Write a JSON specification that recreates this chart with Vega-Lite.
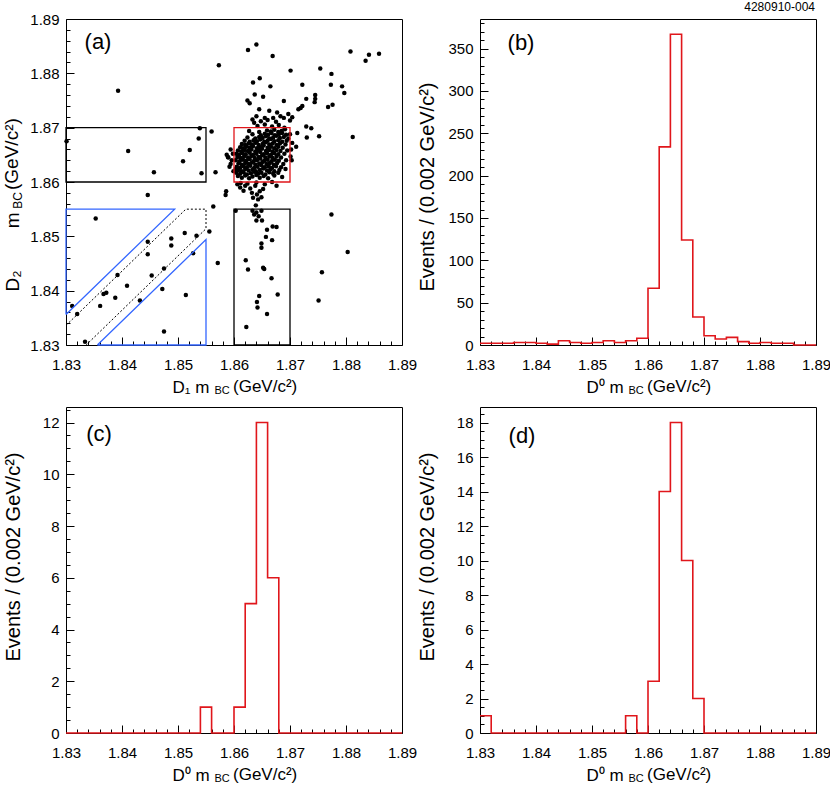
{
"$schema": "https://vega.github.io/schema/vega-lite/v6.json",
"background": "white",
"padding": {"left": 2, "top": 0, "right": 0, "bottom": 2},
"columns": 2,
"spacing": {"row": 62, "column": 78},
"bounds": "flush",
"config": {
  "view": {"stroke": "black", "strokeWidth": 1},
  "axis": {"domain": false, "grid": false, "tickColor": "black", "tickWidth": 1, "labelFont": "Liberation Sans", "labelFontSize": 15, "labelColor": "black", "titleFont": "Liberation Sans", "titleFontWeight": "normal", "titleColor": "black", "labelOverlap": false, "labelFlush": false, "labelBound": false},
  "text": {"font": "Liberation Sans", "color": "black"}
},
"datasets": {
  "scatter": [
{"x":1.8625,"y":1.8843},{"x":1.8640,"y":1.8853},{"x":1.8669,"y":1.8832},{"x":1.8573,"y":1.8815},{"x":1.8393,"y":1.8768},{"x":1.8701,"y":1.8805},{"x":1.8808,"y":1.8840},{"x":1.8835,"y":1.8823},{"x":1.8841,"y":1.8834},{"x":1.8859,"y":1.8836},
{"x":1.8754,"y":1.8809},{"x":1.8774,"y":1.8799},{"x":1.8634,"y":1.8783},{"x":1.8646,"y":1.8791},{"x":1.8665,"y":1.8776},{"x":1.8722,"y":1.8779},{"x":1.8773,"y":1.8779},{"x":1.8793,"y":1.8776},{"x":1.8797,"y":1.8764},{"x":1.8637,"y":1.8761},
{"x":1.8652,"y":1.8757},{"x":1.8624,"y":1.8750},{"x":1.8628,"y":1.8745},{"x":1.8729,"y":1.8753},{"x":1.8745,"y":1.8760},{"x":1.8745,"y":1.8753},{"x":1.8744,"y":1.8747},{"x":1.8689,"y":1.8749},{"x":1.8719,"y":1.8736},{"x":1.8715,"y":1.8734},
{"x":1.8722,"y":1.8740},{"x":1.8768,"y":1.8738},{"x":1.8776,"y":1.8742},{"x":1.8645,"y":1.8734},{"x":1.8663,"y":1.8731},{"x":1.8677,"y":1.8728},{"x":1.8697,"y":1.8725},{"x":1.8704,"y":1.8719},{"x":1.8700,"y":1.8713},{"x":1.8689,"y":1.8718},
{"x":1.8670,"y":1.8718},{"x":1.8655,"y":1.8718},{"x":1.8633,"y":1.8715},{"x":1.8648,"y":1.8712},{"x":1.8729,"y":1.8702},{"x":1.8738,"y":1.8699},{"x":1.8730,"y":1.8682},{"x":1.8752,"y":1.8684},{"x":1.8812,"y":1.8683},{"x":1.8713,"y":1.8690},
{"x":1.8711,"y":1.8665},{"x":1.8701,"y":1.8647},{"x":1.8560,"y":1.8693},{"x":1.8567,"y":1.8618},{"x":1.8587,"y":1.8650},{"x":1.8589,"y":1.8646},{"x":1.8594,"y":1.8633},{"x":1.8603,"y":1.8624},{"x":1.8585,"y":1.8576},{"x":1.8586,"y":1.8583},
{"x":1.8563,"y":1.8555},{"x":1.8446,"y":1.8576},{"x":1.8539,"y":1.8699},{"x":1.8537,"y":1.8680},{"x":1.8521,"y":1.8659},{"x":1.8509,"y":1.8638},{"x":1.8542,"y":1.8616},{"x":1.8411,"y":1.8657},{"x":1.8457,"y":1.8618},{"x":1.8301,"y":1.8675},
{"x":1.8620,"y":1.8593},{"x":1.8629,"y":1.8588},{"x":1.8638,"y":1.8593},{"x":1.8646,"y":1.8583},{"x":1.8641,"y":1.8577},{"x":1.8632,"y":1.8580},{"x":1.8652,"y":1.8587},{"x":1.8634,"y":1.8571},{"x":1.8643,"y":1.8568},{"x":1.8649,"y":1.8572},
{"x":1.8639,"y":1.8557},{"x":1.8676,"y":1.8593},{"x":1.8617,"y":1.8584},{"x":1.8611,"y":1.8590},
{"x":1.8603,"y":1.8547},{"x":1.8633,"y":1.8547},{"x":1.8640,"y":1.8544},{"x":1.8649,"y":1.8547},{"x":1.8644,"y":1.8537},{"x":1.8636,"y":1.8540},{"x":1.8650,"y":1.8529},{"x":1.8640,"y":1.8529},{"x":1.8659,"y":1.8512},{"x":1.8669,"y":1.8518},
{"x":1.8676,"y":1.8517},{"x":1.8657,"y":1.8499},{"x":1.8668,"y":1.8493},{"x":1.8649,"y":1.8487},{"x":1.8649,"y":1.8479},{"x":1.8621,"y":1.8456},{"x":1.8625,"y":1.8439},{"x":1.8652,"y":1.8442},{"x":1.8654,"y":1.8440},{"x":1.8667,"y":1.8423},
{"x":1.8645,"y":1.8390},{"x":1.8678,"y":1.8393},{"x":1.8641,"y":1.8379},{"x":1.8642,"y":1.8369},{"x":1.8659,"y":1.8357},{"x":1.8622,"y":1.8333},{"x":1.8571,"y":1.8451},{"x":1.8556,"y":1.8509},{"x":1.8774,"y":1.8540},{"x":1.8803,"y":1.8471},
{"x":1.8757,"y":1.8434},{"x":1.8751,"y":1.8382},
{"x":1.8353,"y":1.8533},{"x":1.8446,"y":1.8490},{"x":1.8446,"y":1.8467},{"x":1.8488,"y":1.8496},{"x":1.8488,"y":1.8483},{"x":1.8512,"y":1.8506},{"x":1.8533,"y":1.8501},{"x":1.8527,"y":1.8469},{"x":1.8475,"y":1.8441},{"x":1.8453,"y":1.8428},
{"x":1.8472,"y":1.8403},{"x":1.8432,"y":1.8382},{"x":1.8392,"y":1.8429},{"x":1.8409,"y":1.8409},{"x":1.8388,"y":1.8387},{"x":1.8367,"y":1.8394},{"x":1.8372,"y":1.8396},{"x":1.8361,"y":1.8372},{"x":1.8320,"y":1.8357},{"x":1.8311,"y":1.8372},
{"x":1.8475,"y":1.8325},{"x":1.8514,"y":1.8392},{"x":1.8334,"y":1.8306},
{"x":1.8607,"y":1.8611},{"x":1.8614,"y":1.8608},{"x":1.8620,"y":1.8612},{"x":1.8627,"y":1.8607},{"x":1.8633,"y":1.8610},{"x":1.8640,"y":1.8613},{"x":1.8646,"y":1.8608},{"x":1.8653,"y":1.8611},{"x":1.8661,"y":1.8607},{"x":1.8672,"y":1.8612},{"x":1.8686,"y":1.8609},
{"x":1.8604,"y":1.8617},{"x":1.8611,"y":1.8615},{"x":1.8617,"y":1.8618},{"x":1.8623,"y":1.8614},{"x":1.8630,"y":1.8616},{"x":1.8636,"y":1.8619},{"x":1.8643,"y":1.8615},{"x":1.8649,"y":1.8617},{"x":1.8656,"y":1.8614},{"x":1.8663,"y":1.8618},{"x":1.8670,"y":1.8615},{"x":1.8679,"y":1.8617},
{"x":1.8608,"y":1.8622},{"x":1.8614,"y":1.8620},{"x":1.8620,"y":1.8624},{"x":1.8626,"y":1.8621},{"x":1.8633,"y":1.8623},{"x":1.8639,"y":1.8620},{"x":1.8646,"y":1.8622},{"x":1.8652,"y":1.8625},{"x":1.8659,"y":1.8621},{"x":1.8665,"y":1.8623},{"x":1.8672,"y":1.8620},{"x":1.8681,"y":1.8622},{"x":1.8692,"y":1.8624},
{"x":1.8605,"y":1.8628},{"x":1.8611,"y":1.8626},{"x":1.8617,"y":1.8629},{"x":1.8623,"y":1.8627},{"x":1.8629,"y":1.8630},{"x":1.8636,"y":1.8626},{"x":1.8642,"y":1.8628},{"x":1.8649,"y":1.8631},{"x":1.8655,"y":1.8627},{"x":1.8662,"y":1.8629},{"x":1.8668,"y":1.8626},{"x":1.8675,"y":1.8629},{"x":1.8684,"y":1.8627},
{"x":1.8608,"y":1.8634},{"x":1.8614,"y":1.8632},{"x":1.8620,"y":1.8635},{"x":1.8626,"y":1.8633},{"x":1.8632,"y":1.8636},{"x":1.8638,"y":1.8632},{"x":1.8645,"y":1.8634},{"x":1.8651,"y":1.8637},{"x":1.8658,"y":1.8633},{"x":1.8664,"y":1.8635},{"x":1.8671,"y":1.8632},{"x":1.8677,"y":1.8635},{"x":1.8688,"y":1.8633},
{"x":1.8603,"y":1.8640},{"x":1.8610,"y":1.8638},{"x":1.8616,"y":1.8641},{"x":1.8622,"y":1.8639},{"x":1.8628,"y":1.8642},{"x":1.8635,"y":1.8638},{"x":1.8641,"y":1.8640},{"x":1.8647,"y":1.8643},{"x":1.8654,"y":1.8639},{"x":1.8660,"y":1.8641},{"x":1.8667,"y":1.8638},{"x":1.8673,"y":1.8641},{"x":1.8680,"y":1.8639},{"x":1.8693,"y":1.8640},
{"x":1.8606,"y":1.8646},{"x":1.8612,"y":1.8644},{"x":1.8618,"y":1.8647},{"x":1.8625,"y":1.8645},{"x":1.8631,"y":1.8648},{"x":1.8637,"y":1.8644},{"x":1.8644,"y":1.8646},{"x":1.8650,"y":1.8649},{"x":1.8656,"y":1.8645},{"x":1.8663,"y":1.8647},{"x":1.8669,"y":1.8644},{"x":1.8676,"y":1.8647},{"x":1.8684,"y":1.8645},
{"x":1.8604,"y":1.8652},{"x":1.8609,"y":1.8650},{"x":1.8615,"y":1.8653},{"x":1.8621,"y":1.8651},{"x":1.8628,"y":1.8654},{"x":1.8634,"y":1.8650},{"x":1.8640,"y":1.8652},{"x":1.8647,"y":1.8655},{"x":1.8653,"y":1.8651},{"x":1.8659,"y":1.8653},{"x":1.8666,"y":1.8650},{"x":1.8672,"y":1.8653},{"x":1.8679,"y":1.8651},{"x":1.8690,"y":1.8652},
{"x":1.8607,"y":1.8658},{"x":1.8613,"y":1.8656},{"x":1.8619,"y":1.8659},{"x":1.8625,"y":1.8657},{"x":1.8631,"y":1.8660},{"x":1.8638,"y":1.8656},{"x":1.8644,"y":1.8658},{"x":1.8650,"y":1.8661},{"x":1.8657,"y":1.8657},{"x":1.8663,"y":1.8659},{"x":1.8669,"y":1.8656},{"x":1.8676,"y":1.8659},{"x":1.8683,"y":1.8657},{"x":1.8695,"y":1.8658},
{"x":1.8611,"y":1.8664},{"x":1.8616,"y":1.8662},{"x":1.8622,"y":1.8665},{"x":1.8628,"y":1.8663},{"x":1.8634,"y":1.8666},{"x":1.8641,"y":1.8662},{"x":1.8647,"y":1.8664},{"x":1.8653,"y":1.8667},{"x":1.8660,"y":1.8663},{"x":1.8666,"y":1.8665},{"x":1.8672,"y":1.8662},{"x":1.8679,"y":1.8665},{"x":1.8687,"y":1.8663},
{"x":1.8614,"y":1.8670},{"x":1.8620,"y":1.8668},{"x":1.8626,"y":1.8671},{"x":1.8632,"y":1.8669},{"x":1.8638,"y":1.8672},{"x":1.8644,"y":1.8668},{"x":1.8651,"y":1.8670},{"x":1.8657,"y":1.8673},{"x":1.8663,"y":1.8669},{"x":1.8669,"y":1.8671},{"x":1.8676,"y":1.8668},{"x":1.8682,"y":1.8671},{"x":1.8692,"y":1.8669},
{"x":1.8619,"y":1.8676},{"x":1.8628,"y":1.8674},{"x":1.8635,"y":1.8677},{"x":1.8641,"y":1.8675},{"x":1.8647,"y":1.8678},{"x":1.8654,"y":1.8674},{"x":1.8660,"y":1.8676},{"x":1.8666,"y":1.8679},{"x":1.8672,"y":1.8675},{"x":1.8679,"y":1.8677},{"x":1.8686,"y":1.8674},{"x":1.8694,"y":1.8676},
{"x":1.8624,"y":1.8682},{"x":1.8638,"y":1.8680},{"x":1.8645,"y":1.8683},{"x":1.8651,"y":1.8681},{"x":1.8657,"y":1.8684},{"x":1.8663,"y":1.8680},{"x":1.8670,"y":1.8682},{"x":1.8676,"y":1.8685},{"x":1.8682,"y":1.8681},{"x":1.8689,"y":1.8683},{"x":1.8697,"y":1.8680},
{"x":1.8633,"y":1.8688},{"x":1.8648,"y":1.8686},{"x":1.8655,"y":1.8689},{"x":1.8661,"y":1.8687},{"x":1.8667,"y":1.8690},{"x":1.8673,"y":1.8686},{"x":1.8680,"y":1.8688},{"x":1.8686,"y":1.8690},{"x":1.8693,"y":1.8687},
{"x":1.8627,"y":1.8694},{"x":1.8645,"y":1.8692},{"x":1.8659,"y":1.8695},{"x":1.8666,"y":1.8693},{"x":1.8672,"y":1.8696},{"x":1.8679,"y":1.8692},{"x":1.8685,"y":1.8694},{"x":1.8691,"y":1.8697},
{"x":1.8642,"y":1.8703},{"x":1.8655,"y":1.8706},{"x":1.8668,"y":1.8702},{"x":1.8680,"y":1.8705},{"x":1.8690,"y":1.8700},{"x":1.8636,"y":1.8709},{"x":1.8675,"y":1.8711},{"x":1.8660,"y":1.8714},{"x":1.8596,"y":1.8640},{"x":1.8592,"y":1.8628},
{"x":1.8598,"y":1.8652},{"x":1.8594,"y":1.8660},{"x":1.8599,"y":1.8620},{"x":1.8590,"y":1.8645},{"x":1.8702,"y":1.8660},{"x":1.8704,"y":1.8672},{"x":1.8700,"y":1.8688},{"x":1.8703,"y":1.8640},{"x":1.8612,"y":1.8598},{"x":1.8624,"y":1.8597},
{"x":1.8640,"y":1.8599},{"x":1.8655,"y":1.8596},{"x":1.8668,"y":1.8600},{"x":1.8606,"y":1.8596},{"x":1.8640,"y":1.8721},{"x":1.8683,"y":1.8721}
  ],
  "boxes": [
    {"x":1.860,"x2":1.870,"y":1.860,"y2":1.870,"c":"r"},
    {"x":1.830,"x2":1.855,"y":1.860,"y2":1.870,"c":"k"},
    {"x":1.860,"x2":1.870,"y":1.830,"y2":1.855,"c":"k"}
  ],
  "blue": [
    {"id":"u","o":0,"x":1.830,"y":1.8356},{"id":"u","o":1,"x":1.8494,"y":1.855},{"id":"u","o":2,"x":1.830,"y":1.855},{"id":"u","o":3,"x":1.830,"y":1.8356},
    {"id":"l","o":0,"x":1.8356,"y":1.830},{"id":"l","o":1,"x":1.855,"y":1.8494},{"id":"l","o":2,"x":1.855,"y":1.830},{"id":"l","o":3,"x":1.8356,"y":1.830}
  ],
  "dotted": [
    {"o":0,"x":1.830,"y":1.8336},{"o":1,"x":1.8514,"y":1.855},{"o":2,"x":1.855,"y":1.855},{"o":3,"x":1.855,"y":1.8514},{"o":4,"x":1.8336,"y":1.830}
  ],
  "hb": [
    {"x":1.830,"y":2},{"x":1.832,"y":2},{"x":1.834,"y":2},{"x":1.836,"y":3},{"x":1.838,"y":3},{"x":1.840,"y":2},{"x":1.842,"y":1},{"x":1.844,"y":5},{"x":1.846,"y":3},{"x":1.848,"y":2},
    {"x":1.850,"y":3},{"x":1.852,"y":5},{"x":1.854,"y":3},{"x":1.856,"y":5},{"x":1.858,"y":8},{"x":1.860,"y":67},{"x":1.862,"y":234},{"x":1.864,"y":367},{"x":1.866,"y":124},{"x":1.868,"y":33},
    {"x":1.870,"y":11},{"x":1.872,"y":7},{"x":1.874,"y":9},{"x":1.876,"y":4},{"x":1.878,"y":2},{"x":1.880,"y":3},{"x":1.882,"y":2},{"x":1.884,"y":2},{"x":1.886,"y":0},{"x":1.888,"y":0},{"x":1.890,"y":0}
  ],
  "hc": [
    {"x":1.830,"y":0},{"x":1.832,"y":0},{"x":1.834,"y":0},{"x":1.836,"y":0},{"x":1.838,"y":0},{"x":1.840,"y":0},{"x":1.842,"y":0},{"x":1.844,"y":0},{"x":1.846,"y":0},{"x":1.848,"y":0},
    {"x":1.850,"y":0},{"x":1.852,"y":0},{"x":1.854,"y":1},{"x":1.856,"y":0},{"x":1.858,"y":0},{"x":1.860,"y":1},{"x":1.862,"y":5},{"x":1.864,"y":12},{"x":1.866,"y":6},{"x":1.868,"y":0},
    {"x":1.870,"y":0},{"x":1.872,"y":0},{"x":1.874,"y":0},{"x":1.876,"y":0},{"x":1.878,"y":0},{"x":1.880,"y":0},{"x":1.882,"y":0},{"x":1.884,"y":0},{"x":1.886,"y":0},{"x":1.888,"y":0},{"x":1.890,"y":0}
  ],
  "hd": [
    {"x":1.830,"y":1},{"x":1.832,"y":0},{"x":1.834,"y":0},{"x":1.836,"y":0},{"x":1.838,"y":0},{"x":1.840,"y":0},{"x":1.842,"y":0},{"x":1.844,"y":0},{"x":1.846,"y":0},{"x":1.848,"y":0},
    {"x":1.850,"y":0},{"x":1.852,"y":0},{"x":1.854,"y":0},{"x":1.856,"y":1},{"x":1.858,"y":0},{"x":1.860,"y":3},{"x":1.862,"y":14},{"x":1.864,"y":18},{"x":1.866,"y":10},{"x":1.868,"y":2},
    {"x":1.870,"y":0},{"x":1.872,"y":0},{"x":1.874,"y":0},{"x":1.876,"y":0},{"x":1.878,"y":0},{"x":1.880,"y":0},{"x":1.882,"y":0},{"x":1.884,"y":0},{"x":1.886,"y":0},{"x":1.888,"y":0},{"x":1.890,"y":0}
  ]
},
"concat": [
  {
    "width": 336, "height": 326,
    "encoding": {
      "x": {"field": "x", "type": "quantitative", "scale": {"domain": [1.83, 1.89], "nice": false, "zero": false},
        "axis": {"values": [1.83,1.832,1.834,1.836,1.838,1.84,1.842,1.844,1.846,1.848,1.85,1.852,1.854,1.856,1.858,1.86,1.862,1.864,1.866,1.868,1.87,1.872,1.874,1.876,1.878,1.88,1.882,1.884,1.886,1.888,1.89],
          "labelExpr": "abs(datum.value*100-round(datum.value*100))<0.001 ? format(datum.value,'.2f') : ''",
          "tickSize": {"condition": {"test": "abs(datum.value*100-round(datum.value*100))<0.001", "value": -8}, "value": -4},
          "labelPadding": 20.5,
          "title": "D₁ m", "titleX": 106, "titleY": 42.5, "titleAlign": "left", "titleBaseline": "middle", "titleAngle": 0, "titleFontSize": 17}},
      "y": {"field": "y", "type": "quantitative", "scale": {"domain": [1.83, 1.89], "nice": false, "zero": false},
        "axis": {"values": [1.83,1.832,1.834,1.836,1.838,1.84,1.842,1.844,1.846,1.848,1.85,1.852,1.854,1.856,1.858,1.86,1.862,1.864,1.866,1.868,1.87,1.872,1.874,1.876,1.878,1.88,1.882,1.884,1.886,1.888,1.89],
          "labelExpr": "abs(datum.value*100-round(datum.value*100))<0.001 ? format(datum.value,'.2f') : ''",
          "tickSize": {"condition": {"test": "abs(datum.value*100-round(datum.value*100))<0.001", "value": -8}, "value": -4},
          "labelPadding": 15,
          "title": "D₂\u00a0\u00a0\u00a0\u00a0\u00a0\u00a0\u00a0\u00a0m", "titleX": -53.5, "titleY": 272, "titleAlign": "left", "titleBaseline": "middle", "titleAngle": 270, "titleFontSize": 19}}
    },
    "layer": [
      {"data": {"name": "scatter"}, "mark": {"type": "circle", "size": 20, "color": "black", "opacity": 1}},
      {"data": {"name": "boxes"}, "mark": {"type": "rect", "fillOpacity": 0, "strokeWidth": 1.3},
        "encoding": {"x2": {"field": "x2"}, "y2": {"field": "y2"}, "stroke": {"field": "c", "type": "nominal", "scale": {"domain": ["r", "k"], "range": ["#e0161b", "black"]}, "legend": null}}},
      {"data": {"name": "blue"}, "mark": {"type": "line", "color": "#3366ff", "strokeWidth": 1.3},
        "encoding": {"order": {"field": "o", "type": "quantitative"}, "detail": {"field": "id", "type": "nominal"}}},
      {"data": {"name": "dotted"}, "mark": {"type": "line", "color": "black", "strokeWidth": 1, "strokeDash": [2, 2]},
        "encoding": {"order": {"field": "o", "type": "quantitative"}}},
      {"data": {"values": [{"x": 1.835714, "y": 1.885767, "t": "(a)"}]}, "mark": {"type": "text", "fontSize": 22, "align": "center", "baseline": "middle"}, "encoding": {"text": {"field": "t"}}},
      {"data": {"values": [{"x": 1.856518, "y": 1.821534, "t": "BC"}]}, "mark": {"type": "text", "fontSize": 11, "align": "left", "baseline": "middle"}, "encoding": {"text": {"field": "t"}}},
      {"data": {"values": [{"x": 1.859821, "y": 1.822178, "t": "(GeV/c²)"}]}, "mark": {"type": "text", "fontSize": 17, "align": "left", "baseline": "middle"}, "encoding": {"text": {"field": "t"}}},
      {"data": {"values": [{"x": 1.821429, "y": 1.856595, "t": "BC"}]}, "mark": {"type": "text", "fontSize": 12, "align": "center", "baseline": "middle", "angle": 270}, "encoding": {"text": {"field": "t"}}},
      {"data": {"values": [{"x": 1.820446, "y": 1.858528, "t": "(GeV/c²)"}]}, "mark": {"type": "text", "fontSize": 19, "align": "left", "baseline": "middle", "angle": 270}, "encoding": {"text": {"field": "t"}}}
    ]
  },
  {
    "width": 336, "height": 326,
    "encoding": {
      "x": {"field": "x", "type": "quantitative", "scale": {"domain": [1.83, 1.89], "nice": false, "zero": false},
        "axis": {"values": [1.83,1.832,1.834,1.836,1.838,1.84,1.842,1.844,1.846,1.848,1.85,1.852,1.854,1.856,1.858,1.86,1.862,1.864,1.866,1.868,1.87,1.872,1.874,1.876,1.878,1.88,1.882,1.884,1.886,1.888,1.89],
          "labelExpr": "abs(datum.value*100-round(datum.value*100))<0.001 ? format(datum.value,'.2f') : ''",
          "tickSize": {"condition": {"test": "abs(datum.value*100-round(datum.value*100))<0.001", "value": -8}, "value": -4},
          "labelPadding": 20.5,
          "title": "D⁰ m", "titleX": 106, "titleY": 42.5, "titleAlign": "left", "titleBaseline": "middle", "titleAngle": 0, "titleFontSize": 17}},
      "y": {"field": "y", "type": "quantitative", "scale": {"domain": [0, 385], "nice": false},
        "axis": {"values": [0,10,20,30,40,50,60,70,80,90,100,110,120,130,140,150,160,170,180,190,200,210,220,230,240,250,260,270,280,290,300,310,320,330,340,350,360,370,380],
          "labelExpr": "datum.value % 50 == 0 ? format(datum.value,'d') : ''",
          "tickSize": {"condition": {"test": "datum.value % 50 == 0", "value": -8}, "value": -4},
          "labelPadding": 15,
          "title": "Events / (0.002 GeV/c²)", "titleX": -53, "titleY": 272, "titleAlign": "left", "titleBaseline": "middle", "titleAngle": 270, "titleFontSize": 20}}
    },
    "layer": [
      {"data": {"name": "hb"}, "mark": {"type": "line", "interpolate": "step-after", "color": "#e0161b", "strokeWidth": 1.6}},
      {"data": {"values": [{"x": 1.837321, "y": 357.0, "t": "(b)"}]}, "mark": {"type": "text", "fontSize": 22, "align": "center", "baseline": "middle"}, "encoding": {"text": {"field": "t"}}},
      {"data": {"values": [{"x": 1.856518, "y": -54.3, "t": "BC"}]}, "mark": {"type": "text", "fontSize": 11, "align": "left", "baseline": "middle"}, "encoding": {"text": {"field": "t"}}},
      {"data": {"values": [{"x": 1.859821, "y": -50.19, "t": "(GeV/c²)"}]}, "mark": {"type": "text", "fontSize": 17, "align": "left", "baseline": "middle"}, "encoding": {"text": {"field": "t"}}},
      {"data": {"values": [{"x": 1.889821, "y": 394.45, "t": "4280910-004"}]}, "mark": {"type": "text", "fontSize": 12, "align": "right", "baseline": "alphabetic"}, "encoding": {"text": {"field": "t"}}}
    ]
  },
  {
    "width": 336, "height": 326,
    "encoding": {
      "x": {"field": "x", "type": "quantitative", "scale": {"domain": [1.83, 1.89], "nice": false, "zero": false},
        "axis": {"values": [1.83,1.832,1.834,1.836,1.838,1.84,1.842,1.844,1.846,1.848,1.85,1.852,1.854,1.856,1.858,1.86,1.862,1.864,1.866,1.868,1.87,1.872,1.874,1.876,1.878,1.88,1.882,1.884,1.886,1.888,1.89],
          "labelExpr": "abs(datum.value*100-round(datum.value*100))<0.001 ? format(datum.value,'.2f') : ''",
          "tickSize": {"condition": {"test": "abs(datum.value*100-round(datum.value*100))<0.001", "value": -8}, "value": -4},
          "labelPadding": 20.5,
          "title": "D⁰ m", "titleX": 106, "titleY": 42.5, "titleAlign": "left", "titleBaseline": "middle", "titleAngle": 0, "titleFontSize": 17}},
      "y": {"field": "y", "type": "quantitative", "scale": {"domain": [0, 12.6], "nice": false},
        "axis": {"values": [0,0.5,1,1.5,2,2.5,3,3.5,4,4.5,5,5.5,6,6.5,7,7.5,8,8.5,9,9.5,10,10.5,11,11.5,12,12.5],
          "labelExpr": "datum.value % 2 == 0 ? format(datum.value,'d') : ''",
          "tickSize": {"condition": {"test": "datum.value % 2 == 0", "value": -8}, "value": -4},
          "labelPadding": 15,
          "title": "Events / (0.002 GeV/c²)", "titleX": -53, "titleY": 254, "titleAlign": "left", "titleBaseline": "middle", "titleAngle": 270, "titleFontSize": 20}}
    },
    "layer": [
      {"data": {"name": "hc"}, "mark": {"type": "line", "interpolate": "step-after", "color": "#e0161b", "strokeWidth": 1.6}},
      {"data": {"values": [{"x": 1.835893, "y": 11.556, "t": "(c)"}]}, "mark": {"type": "text", "fontSize": 22, "align": "center", "baseline": "middle"}, "encoding": {"text": {"field": "t"}}},
      {"data": {"values": [{"x": 1.856518, "y": -1.778, "t": "BC"}]}, "mark": {"type": "text", "fontSize": 11, "align": "left", "baseline": "middle"}, "encoding": {"text": {"field": "t"}}},
      {"data": {"values": [{"x": 1.859821, "y": -1.6426, "t": "(GeV/c²)"}]}, "mark": {"type": "text", "fontSize": 17, "align": "left", "baseline": "middle"}, "encoding": {"text": {"field": "t"}}}
    ]
  },
  {
    "width": 336, "height": 326,
    "encoding": {
      "x": {"field": "x", "type": "quantitative", "scale": {"domain": [1.83, 1.89], "nice": false, "zero": false},
        "axis": {"values": [1.83,1.832,1.834,1.836,1.838,1.84,1.842,1.844,1.846,1.848,1.85,1.852,1.854,1.856,1.858,1.86,1.862,1.864,1.866,1.868,1.87,1.872,1.874,1.876,1.878,1.88,1.882,1.884,1.886,1.888,1.89],
          "labelExpr": "abs(datum.value*100-round(datum.value*100))<0.001 ? format(datum.value,'.2f') : ''",
          "tickSize": {"condition": {"test": "abs(datum.value*100-round(datum.value*100))<0.001", "value": -8}, "value": -4},
          "labelPadding": 20.5,
          "title": "D⁰ m", "titleX": 106, "titleY": 42.5, "titleAlign": "left", "titleBaseline": "middle", "titleAngle": 0, "titleFontSize": 17}},
      "y": {"field": "y", "type": "quantitative", "scale": {"domain": [0, 18.9], "nice": false},
        "axis": {"values": [0,0.5,1,1.5,2,2.5,3,3.5,4,4.5,5,5.5,6,6.5,7,7.5,8,8.5,9,9.5,10,10.5,11,11.5,12,12.5,13,13.5,14,14.5,15,15.5,16,16.5,17,17.5,18,18.5],
          "labelExpr": "datum.value % 2 == 0 ? format(datum.value,'d') : ''",
          "tickSize": {"condition": {"test": "datum.value % 2 == 0", "value": -8}, "value": -4},
          "labelPadding": 15,
          "title": "Events / (0.002 GeV/c²)", "titleX": -53, "titleY": 254, "titleAlign": "left", "titleBaseline": "middle", "titleAngle": 270, "titleFontSize": 20}}
    },
    "layer": [
      {"data": {"name": "hd"}, "mark": {"type": "line", "interpolate": "step-after", "color": "#e0161b", "strokeWidth": 1.6}},
      {"data": {"values": [{"x": 1.8375, "y": 17.218, "t": "(d)"}]}, "mark": {"type": "text", "fontSize": 22, "align": "center", "baseline": "middle"}, "encoding": {"text": {"field": "t"}}},
      {"data": {"values": [{"x": 1.856518, "y": -2.667, "t": "BC"}]}, "mark": {"type": "text", "fontSize": 11, "align": "left", "baseline": "middle"}, "encoding": {"text": {"field": "t"}}},
      {"data": {"values": [{"x": 1.859821, "y": -2.4639, "t": "(GeV/c²)"}]}, "mark": {"type": "text", "fontSize": 17, "align": "left", "baseline": "middle"}, "encoding": {"text": {"field": "t"}}}
    ]
  }
]
}
